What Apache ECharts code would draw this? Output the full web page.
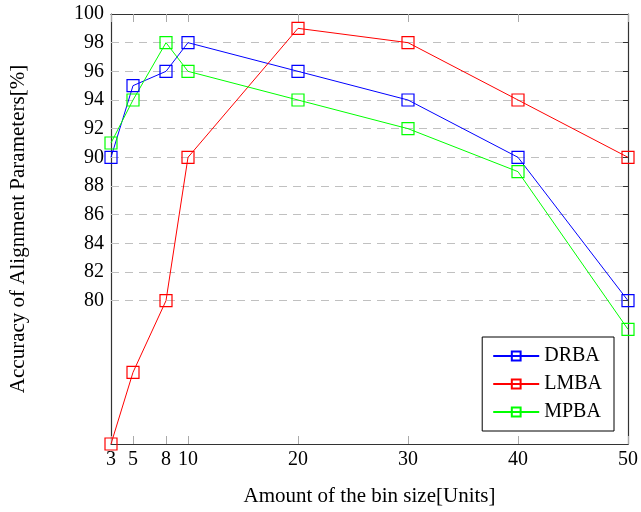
<!DOCTYPE html>
<html>
<head>
<meta charset="utf-8">
<script src="https://cdn.jsdelivr.net/npm/echarts@6/dist/echarts.min.js"></script>
<style>
  html, body { margin: 0; padding: 0; background: #fff; }
  #chart { width: 641px; height: 512px; }
</style>
</head>
<body>
<div id="chart"></div>
<script>
  // bin sizes on the x axis
  const binSizes = [3, 5, 8, 10, 20, 30, 40, 50];
  // accuracy values
  const drba = [90, 95, 96, 98, 96, 94, 90, 80];
  const lmba = [70, 75, 80, 90, 99, 98, 94, 90];
  const mpba = [91, 94, 98, 96, 94, 92, 89, 78];
  // tick labels
  const xTicks = [3, 5, 8, 10, 20, 30, 40, 50];
  const yTicks = [80, 82, 84, 86, 88, 90, 92, 94, 96, 98, 100];

  const font = 'Liberation Serif';
  const pair = (ys) => binSizes.map((x, i) => [x, ys[i]]);

  function mkSeries(name, color, ys, withGrid) {
    const s = {
      name: name,
      type: 'line',
      data: pair(ys),
      color: color,
      symbol: 'rect',
      symbolSize: 12,
      clip: false,
      lineStyle: { color: color, width: 1 },
      itemStyle: { color: 'rgba(255,255,255,0)', borderColor: color, borderWidth: 1.2 },
      emphasis: { disabled: true },
      z: 3
    };
    if (withGrid) {
      s.markLine = {
        silent: true,
        symbol: 'none',
        label: { show: false },
        lineStyle: { color: '#c0c0c0', type: [8, 6], width: 1 },
        data: yTicks.filter(v => v < 100).map(v => ({ yAxis: v })),
        z: 1
      };
    }
    return s;
  }

  const chart = echarts.init(document.getElementById('chart'));
  chart.setOption({
    animation: false,
    grid: { left: 111, right: 12, top: 14, bottom: 68, show: false },
    legend: {
      right: 27,
      bottom: 81,
      orient: 'vertical',
      backgroundColor: '#fff',
      borderColor: '#000',
      borderWidth: 1,
      borderRadius: 0,
      padding: [9, 12, 9, 10],
      itemGap: 8,
      itemWidth: 46,
      itemHeight: 11,
      textStyle: { fontFamily: font, fontSize: 20, color: '#000' },
      data: ['DRBA', 'LMBA', 'MPBA']
    },
    xAxis: [
      {
        type: 'value',
        min: 3,
        max: 50,
        name: 'Amount of the bin size[Units]',
        nameLocation: 'middle',
        nameGap: 42,
        nameTextStyle: { fontFamily: font, fontSize: 21, color: '#000' },
        axisLine: { show: true, lineStyle: { color: '#333', width: 1.2 } },
        axisTick: { show: true, inside: true, length: 8, customValues: xTicks, lineStyle: { color: '#aaa' } },
        axisLabel: { customValues: xTicks, fontFamily: font, fontSize: 20, color: '#000', margin: 6 },
        splitLine: { show: false }
      },
      {
        type: 'value',
        position: 'top',
        min: 3,
        max: 50,
        axisLine: { show: true, lineStyle: { color: '#333', width: 1.2 } },
        axisTick: { show: true, inside: true, length: 8, customValues: xTicks, lineStyle: { color: '#aaa' } },
        axisLabel: { show: false },
        splitLine: { show: false }
      }
    ],
    yAxis: [
      {
        type: 'value',
        min: 70,
        max: 100,
        name: 'Accuracy of Alignment Parameters[%]',
        nameLocation: 'middle',
        nameGap: 82,
        nameTextStyle: { fontFamily: font, fontSize: 21, color: '#000' },
        axisLine: { show: true, lineStyle: { color: '#333', width: 1.2 } },
        axisTick: { show: true, inside: true, length: 5, customValues: yTicks, lineStyle: { color: '#333' } },
        axisLabel: { customValues: yTicks, fontFamily: font, fontSize: 20, color: '#000', margin: 7 },
        splitLine: { show: false }
      },
      {
        type: 'value',
        position: 'right',
        min: 70,
        max: 100,
        axisLine: { show: true, lineStyle: { color: '#333', width: 1.2 } },
        axisTick: { show: true, inside: true, length: 5, customValues: yTicks, lineStyle: { color: '#333' } },
        axisLabel: { show: false },
        splitLine: { show: false }
      }
    ],
    series: [
      mkSeries('DRBA', '#0000ff', drba, true),
      mkSeries('LMBA', '#ff0000', lmba, false),
      mkSeries('MPBA', '#00ff00', mpba, false)
    ]
  });
</script>
</body>
</html>
